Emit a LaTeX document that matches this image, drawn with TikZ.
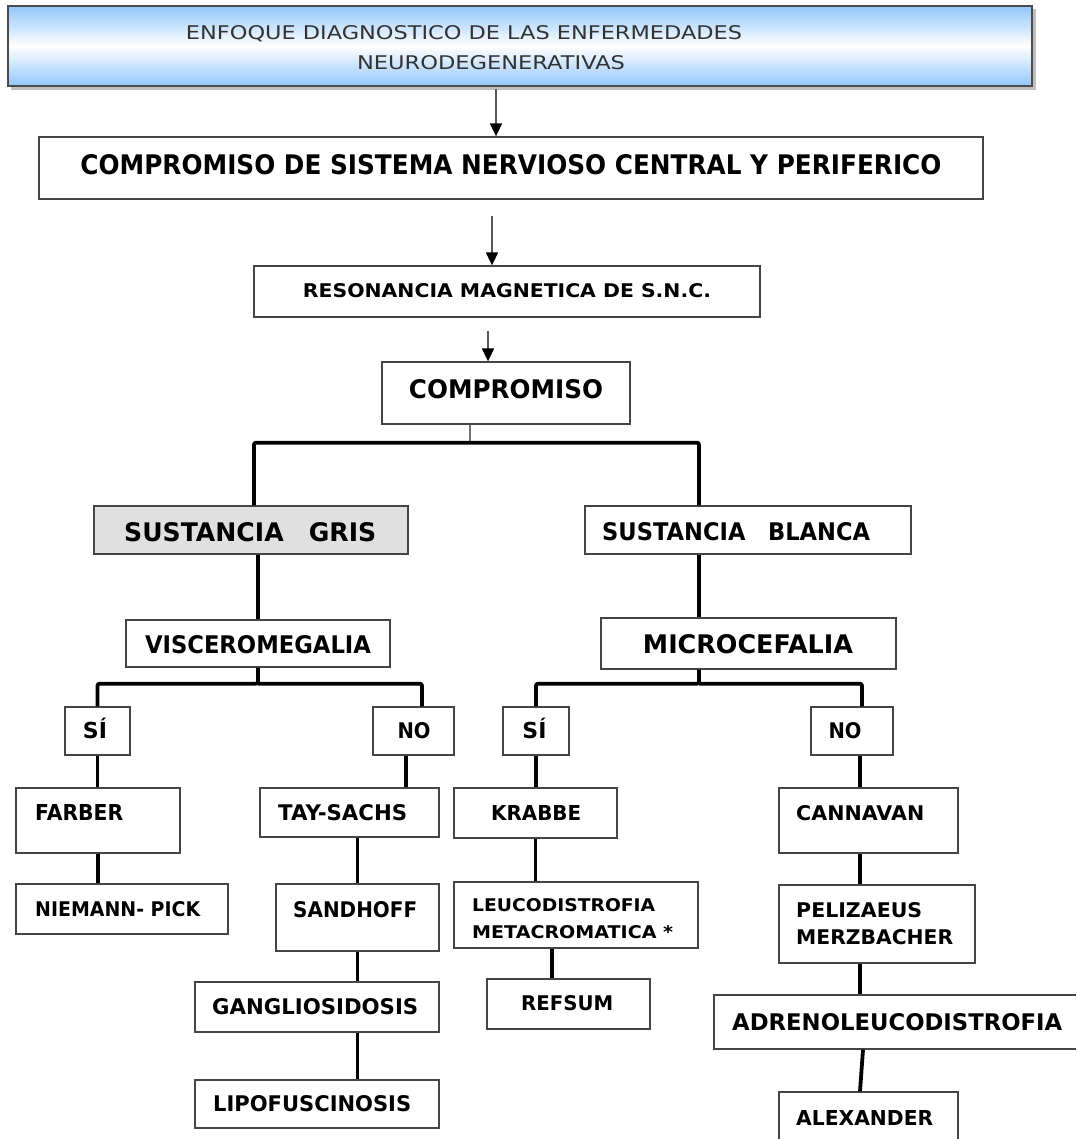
\documentclass[tikz,border=0pt]{standalone}
\usepackage{graphicx}
\usepackage{fontspec}
\setmainfont{DejaVu Sans}
\usetikzlibrary{arrows.meta}
\definecolor{headblue}{HTML}{92C6FA}
\definecolor{boxline}{HTML}{454545}
\definecolor{grisfill}{HTML}{E0E0E0}
\newcommand{\fitbox}[3]{\resizebox{#1pt}{#2pt}{#3}}
\begin{document}
\begin{tikzpicture}[x=1pt,y=-1pt,
  box/.style={draw=boxline, line width=1.3pt, fill=white, inner sep=0pt},
  txt/.style={inner sep=0pt, font=\bfseries},
  conn/.style={line width=3.8pt, line join=round, rounded corners=2pt},
  arr/.style={draw=black!65, line width=1.7pt, -{Triangle[length=13pt,width=12pt,color=black]}}
]
\useasboundingbox (0,0) rectangle (1076,1139);
\clip (0,0) rectangle (1076,1139);

% header with its shadow
\fill[black!25] (11,9) rectangle (1036,90);
\node[draw=black!70, line width=1.5pt, inner sep=0pt, minimum width=1024pt, minimum height=80pt,
      top color=headblue, bottom color=headblue, middle color=white] (head) at (520,46) {};
\node[inner sep=0pt, anchor=base, text=black!80] (head1) at (464,40) {\fitbox{556}{14}{ENFOQUE DIAGNOSTICO DE LAS ENFERMEDADES}};
\node[inner sep=0pt, anchor=base, text=black!80] (head2) at (491,70) {\fitbox{268}{14}{NEURODEGENERATIVAS}};

% main column
\node[box, minimum width=944pt, minimum height=62pt] (box2) at (511,168) {};
\node[txt, anchor=base] (t2) at (511,175) {\fitbox{861}{20}{COMPROMISO DE SISTEMA NERVIOSO CENTRAL Y PERIFERICO}};
\node[box, minimum width=506pt, minimum height=51pt] (box3) at (507,291.5) {};
\node[txt, anchor=base] (t3) at (507,297) {\fitbox{408}{14}{RESONANCIA MAGNETICA DE S.N.C.}};
\node[box, minimum width=248pt, minimum height=62pt] (box4) at (506,393) {};
\node[txt, anchor=base] (t4) at (506,398) {\fitbox{194}{19}{COMPROMISO}};

\draw[arr] ([xshift=-24pt,yshift=-2pt]head.south) -- ([xshift=-15pt]box2.north);
\draw[arr] ([xshift=-19pt,yshift=-16pt]box2.south) -- ([xshift=-15pt]box3.north);
\draw[arr] ([xshift=-19pt,yshift=-13pt]box3.south) -- ([xshift=-18pt]box4.north);

% grey / white matter
\node[box, fill=grisfill, minimum width=314pt, minimum height=48pt] (gris) at (251,530) {};
\node[txt, anchor=base west] (tgris) at (124,541) {\fitbox{252}{19}{SUSTANCIA\hspace{1em}GRIS}};
\node[box, minimum width=326pt, minimum height=48pt] (blanca) at (748,530) {};
\node[txt, anchor=base west] (tblanca) at (602,540) {\fitbox{268}{18}{SUSTANCIA\hspace{1em}BLANCA}};

\coordinate (split) at ([xshift=-36pt,yshift=-18pt]box4.south);
\draw[black!55, line width=1.4pt] ([xshift=-36pt]box4.south) -- (split);
\draw[conn] ([xshift=3pt]gris.north) |- (split) -| ([xshift=-49pt]blanca.north);

\node[box, minimum width=264pt, minimum height=47pt] (visc) at (258,643.5) {};
\node[txt, anchor=base] (tvisc) at (258,653) {\fitbox{226}{18}{VISCEROMEGALIA}};
\node[box, minimum width=295pt, minimum height=51pt] (micro) at (748.5,643.5) {};
\node[txt, anchor=base] (tmicro) at (748,653) {\fitbox{210}{19}{MICROCEFALIA}};

\draw[conn] (visc.north) -- (visc.north |- gris.south);
\draw[conn] ([xshift=-49pt]blanca.south) -- ([xshift=-49pt]blanca.south |- micro.north);

% yes / no
\node[box, minimum width=65pt, minimum height=48pt] (si1) at (97.5,731) {};
\node[txt, anchor=base, font=\bfseries\fontsize{22}{22}\selectfont] (tsi1) at (95,738) {SÍ};
\node[box, minimum width=81pt, minimum height=48pt] (no1) at (413.5,731) {};
\node[txt, anchor=base] (tno1) at (414,738) {\fitbox{33}{16}{NO}};
\node[box, minimum width=66pt, minimum height=48pt] (si2) at (536,731) {};
\node[txt, anchor=base, font=\bfseries\fontsize{22}{22}\selectfont] (tsi2) at (534.5,738) {SÍ};
\node[box, minimum width=82pt, minimum height=48pt] (no2) at (852,731) {};
\node[txt, anchor=base] (tno2) at (845,738) {\fitbox{33}{16}{NO}};

\draw[conn] (visc.south) -- ++(0,16) coordinate (vj) -| (si1.north);
\draw[conn] (vj) -| ([xshift=8.5pt]no1.north);
\draw[conn] ([xshift=-49.5pt]micro.south) -- ++(0,14) coordinate (mj) -| (si2.north);
\draw[conn] (mj) -| ([xshift=10pt]no2.north);

% grey matter diseases
\node[box, minimum width=164pt, minimum height=65pt] (farber) at (98,820.5) {};
\node[txt, anchor=base west] (tfarber) at (35,820) {\fitbox{88}{16}{FARBER}};
\node[box, minimum width=212pt, minimum height=50pt] (niemann) at (122,909) {};
\node[txt, anchor=base west] (tniemann) at (35,916) {\fitbox{165}{15}{NIEMANN- PICK}};
\node[box, minimum width=179pt, minimum height=49pt] (tay) at (349.5,812.5) {};
\node[txt, anchor=base west] (ttay) at (278,820) {\fitbox{129}{16}{TAY-SACHS}};
\node[box, minimum width=163pt, minimum height=67pt] (sand) at (357.5,917.5) {};
\node[txt, anchor=base west] (tsand) at (293,917) {\fitbox{124}{16}{SANDHOFF}};
\node[box, minimum width=244pt, minimum height=50pt] (gang) at (317,1007) {};
\node[txt, anchor=base west] (tgang) at (212,1014) {\fitbox{206}{16}{GANGLIOSIDOSIS}};
\node[box, minimum width=244pt, minimum height=48pt] (lipo) at (317,1104) {};
\node[txt, anchor=base west] (tlipo) at (213,1111) {\fitbox{198}{16}{LIPOFUSCINOSIS}};

\draw[conn] (si1.south) -- (si1.south |- farber.north);
\draw[conn] (farber.south) -- (farber.south |- niemann.north);
\draw[conn] ([xshift=-7.5pt]no1.south) -- ([xshift=-7.5pt]no1.south |- tay.north);
\draw[conn] (sand.north) -- (sand.north |- tay.south);
\draw[conn] (sand.south) -- (sand.south |- gang.north);
\draw[conn] (sand.south |- gang.south) -- (sand.south |- lipo.north);

% white matter diseases
\node[box, minimum width=163pt, minimum height=50pt] (krabbe) at (535.5,813) {};
\node[txt, anchor=base west] (tkrabbe) at (491,820) {\fitbox{90}{15}{KRABBE}};
\node[box, minimum width=244pt, minimum height=66pt] (leuco) at (576,915) {};
\node[txt, anchor=base west] (tleuco1) at (472,911) {\fitbox{183}{13}{LEUCODISTROFIA}};
\node[txt, anchor=base west] (tleuco2) at (472,938) {\fitbox{201}{13}{METACROMATICA *}};
\node[box, minimum width=163pt, minimum height=50pt] (refsum) at (568.5,1004) {};
\node[txt, anchor=base west] (trefsum) at (521,1010) {\fitbox{92}{15}{REFSUM}};

\node[box, minimum width=179pt, minimum height=65pt] (cann) at (868.5,820.5) {};
\node[txt, anchor=base west] (tcann) at (796,820) {\fitbox{128}{15}{CANNAVAN}};
\node[box, minimum width=196pt, minimum height=78pt] (peliz) at (877,924) {};
\node[txt, anchor=base west] (tpeliz1) at (796,917) {\fitbox{126}{15}{PELIZAEUS}};
\node[txt, anchor=base west] (tpeliz2) at (796,944) {\fitbox{157}{15}{MERZBACHER}};
\node[box, minimum width=376pt, minimum height=54pt] (adreno) at (902,1022) {};
\node[txt, anchor=base west] (tadreno) at (732,1030) {\fitbox{330}{17}{ADRENOLEUCODISTROFIA}};
\node[box, minimum width=179pt, minimum height=68pt] (alex) at (868.5,1126) {};
\node[txt, anchor=base west] (talex) at (796,1125) {\fitbox{137}{15}{ALEXANDER}};

\draw[conn] (si2.south) -- (si2.south |- krabbe.north);
\draw[conn] (krabbe.south) -- (krabbe.south |- leuco.north);
\draw[conn] ([xshift=-24pt]leuco.south) -- ([xshift=-24pt]leuco.south |- refsum.north);
\draw[conn] ([xshift=8pt]no2.south) -- ([xshift=8pt]no2.south |- cann.north);
\draw[conn] ([xshift=-8.5pt]cann.south) -- ([xshift=-8.5pt]cann.south |- peliz.north);
\draw[conn] ([xshift=-8.5pt]cann.south |- peliz.south) -- ([xshift=-8.5pt]cann.south |- adreno.north);
\draw[conn] ([xshift=-39pt]adreno.south) -- ([xshift=-8.5pt]alex.north);
\end{tikzpicture}
\end{document}
